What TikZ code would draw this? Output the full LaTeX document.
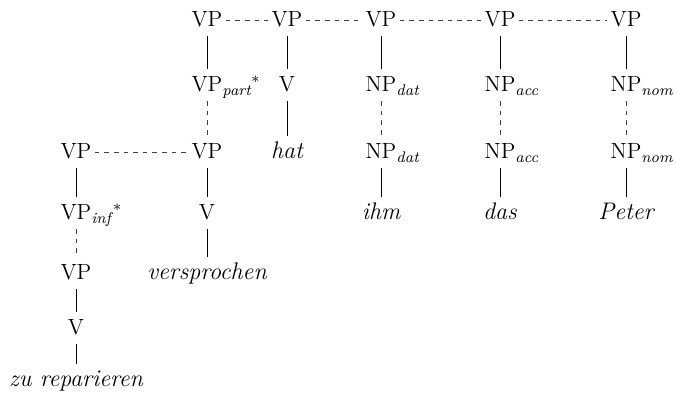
\documentclass[tikz,border=0pt]{standalone}
\usepackage{tikz}
\tikzset{
  every picture/.append style={font=\fontsize{11}{13}\selectfont},
  cat/.style={inner xsep=1.5pt,inner ysep=4.5pt,text height=0.68em,text depth=0pt},
  word/.style={cat,font=\fontsize{12}{14}\selectfont\itshape},
  tree/.style={draw=black,line width=0.45pt},
  treedash/.style={draw=black!75,line width=0.45pt,dash pattern=on 2.3pt off 2.5pt},
}
\newcommand{\catsub}[2]{#1\rlap{\textsubscript{\textit{#2}}}}
\newcommand{\catsubstar}[2]{#1\rlap{\textsubscript{\textit{#2}}\kern-0.5pt\raisebox{-0.4ex}{\textsuperscript{*}}}}

\begin{document}
\begin{tikzpicture}[x=0.5pt,y=-0.5pt]
  \useasboundingbox (0,0) rectangle (676,397);

  % spine of elementary trees
  \node[cat] (vp1) at (207,20) {VP};
  \node[cat] (vp2) at (287,20) {VP};
  \node[cat] (vp3) at (381,20) {VP};
  \node[cat] (vp4) at (500,20) {VP};
  \node[cat] (vp5) at (626,20) {VP};

  \node[cat] (vppart) at (207,85) {\catsubstar{VP}{part}};
  \node[cat] (v2)     at (287,85) {V};
  \node[cat] (npdatA) at (381,85) {\catsub{NP}{dat}};
  \node[cat] (npaccA) at (500,85) {\catsub{NP}{acc}};
  \node[cat] (npnomA) at (626,85) {\catsub{NP}{nom}};

  \node[cat]  (vpL)    at (76,152)  {VP};
  \node[cat]  (vpM)    at (207,152) {VP};
  \node[word] (hat)    at (287,152) {hat};
  \node[cat]  (npdatB) at (381,152) {\catsub{NP}{dat}};
  \node[cat]  (npaccB) at (500,152) {\catsub{NP}{acc}};
  \node[cat]  (npnomB) at (626,152) {\catsub{NP}{nom}};

  \node[cat]  (vpinf) at (76,213)  {\catsubstar{VP}{inf}};
  \node[cat]  (vM)    at (207,213) {V};
  \node[word] (ihm)   at (381,213) {ihm};
  \node[word] (das)   at (500,213) {das};
  \node[word] (peter) at (626,213) {Peter};

  \node[cat]  (vpLow) at (76,273)  {VP};
  \node[word] (versp) at (207,273) {versprochen};
  \node[cat]  (vLow)  at (76,328)  {V};
  \node[word] (zurep) at (76,380)  {zu reparieren};

  \foreach \a/\b in {vp1/vppart,vp2/v2,v2/hat,vp3/npdatA,vp4/npaccA,vp5/npnomA,
                     npdatB/ihm,npaccB/das,npnomB/peter,vpL/vpinf,vpM/vM,vM/versp,
                     vpLow/vLow,vLow/zurep}
    \draw[tree] (\a.south) -- (\b.north);

  \foreach \a/\b in {vppart/vpM,npdatA/npdatB,npaccA/npaccB,npnomA/npnomB,vpinf/vpLow}
    \draw[treedash] (\a.south) -- (\b.north);

  \foreach \a/\b in {vp1/vp2,vp2/vp3,vp3/vp4,vp4/vp5,vpL/vpM}
    \draw[treedash] (\a.east) -- (\b.west);
\end{tikzpicture}
\end{document}
